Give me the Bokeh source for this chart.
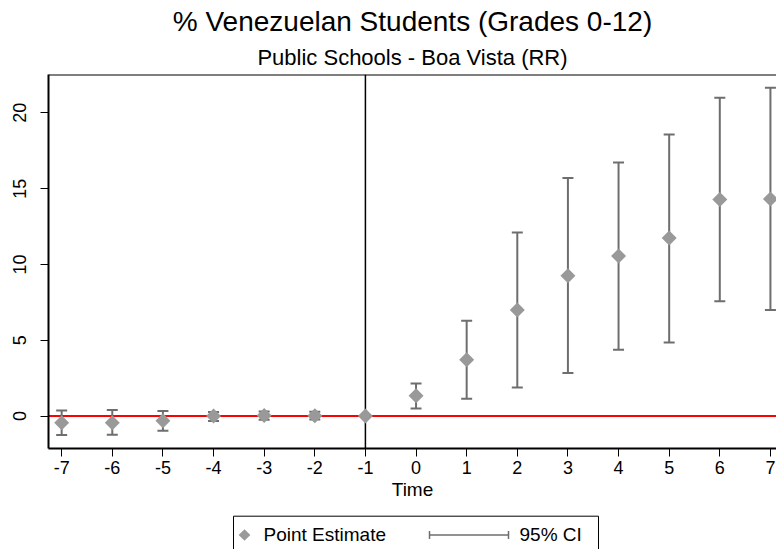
import math
from bokeh.plotting import figure
from bokeh.models import Range1d, Span, Title, FixedTicker
from bokeh.layouts import column
from bokeh.embed import file_html
from bokeh.resources import INLINE
from bokeh.core.properties import value

# ---- data ----
time = [-7, -6, -5, -4, -3, -2, -1, 0, 1, 2, 3, 4, 5, 6, 7]
estimate = [-0.44, -0.44, -0.31, 0.00, 0.03, 0.02, 0.00, 1.34, 3.72, 7.00, 9.26, 10.56, 11.75, 14.28, 14.32]
ci_low = [-1.25, -1.23, -0.97, -0.33, -0.25, -0.22, 0.00, 0.50, 1.14, 1.89, 2.84, 4.38, 4.86, 7.57, 7.00]
ci_high = [0.37, 0.40, 0.33, 0.26, 0.30, 0.28, 0.00, 2.15, 6.29, 12.10, 15.70, 16.72, 18.57, 21.00, 21.66]
y_ticks = [0, 5, 10, 15, 20]
title_text = "% Venezuelan Students (Grades 0-12)"
subtitle_text = "Public Schools - Boa Vista (RR)"
x_label = "Time"
legend_labels = ["Point Estimate", "95% CI"]

FONT = "Liberation Sans"
BAR = "#6e6e6e"
DIA = "#999999"
Y_TOP = 22.53

p = figure(width=776, height=505,
           x_range=Range1d(-7.26, 7.12), y_range=Range1d(-2.14, Y_TOP),
           output_backend="svg", toolbar_location=None,
           min_border_left=48, min_border_right=0, min_border_top=74, min_border_bottom=57,
           outline_line_color=None, background_fill_color="white", border_fill_color="white")

p.add_layout(Title(text=subtitle_text, align="center", text_font=FONT, text_font_size="22px",
                   text_font_style="normal", text_color="black", standoff=10), "above")
p.add_layout(Title(text=title_text, align="center", text_font=FONT, text_font_size="28px",
                   text_font_style="normal", text_color="black", standoff=2), "above")

p.grid.visible = False

# axes
p.xaxis.ticker = FixedTicker(ticks=time)
p.yaxis.ticker = FixedTicker(ticks=y_ticks)
p.xaxis.major_label_overrides = {t: str(t) for t in time}
for ax in (p.xaxis[0], p.yaxis[0]):
    ax.axis_line_color = "black"
    ax.axis_line_width = 2
    ax.major_tick_line_color = "black"
    ax.major_tick_line_width = 1
    ax.major_tick_in = 0
    ax.major_tick_out = 8
    ax.minor_tick_line_color = None
    ax.major_label_text_font = FONT
    ax.major_label_text_font_size = "18px"
    ax.major_label_text_color = "black"
p.yaxis.major_label_orientation = "vertical"
p.yaxis.major_label_standoff = 14
p.xaxis.major_label_standoff = 4
p.xaxis.axis_label = x_label
p.xaxis.axis_label_text_font = FONT
p.xaxis.axis_label_text_font_size = "19px"
p.xaxis.axis_label_text_font_style = "normal"
p.xaxis.axis_label_text_color = "black"
p.xaxis.axis_label_standoff = 2

# top frame border
p.add_layout(Span(location=Y_TOP, dimension="width", line_color="black", line_width=2, level="overlay"))
p.add_layout(Span(location=-1, dimension="height", line_color="black", line_width=1.5, level="underlay"))
p.add_layout(Span(location=0, dimension="width", line_color="red", line_width=2, level="underlay"))

p.segment(x0=time, y0=ci_low, x1=time, y1=ci_high, line_color=BAR, line_width=2)
p.scatter(x=time, y=ci_low, marker="dash", size=11, line_color=BAR, line_width=2)
p.scatter(x=time, y=ci_high, marker="dash", size=11, line_color=BAR, line_width=2)
p.scatter(x=time, y=estimate, marker="square", angle=math.pi / 4, size=10.6,
          fill_color=DIA, line_color=None)

# ---- legend strip (frame aligned with main plot: x in page pixels 48..776) ----
lf = figure(width=776, height=44, x_range=Range1d(48, 776), y_range=Range1d(44, 0),
            output_backend="svg", toolbar_location=None, x_axis_type=None, y_axis_type=None,
            min_border=0, min_border_left=48, min_border_right=0,
            outline_line_color=None)
lf.grid.visible = False
lf.quad(left=[233], right=[598], top=[10.7], bottom=[80], fill_color="white",
        line_color="black", line_width=1)
lf.scatter(x=[244], y=[29.5], marker="square", angle=math.pi / 4, size=8.3,
           fill_color=DIA, line_color=None)
lf.segment(x0=[429], y0=[29.5], x1=[508], y1=[29.5], line_color=BAR, line_width=1.5)
lf.segment(x0=[429, 508], y0=[25.5, 25.5], x1=[429, 508], y1=[33.5, 33.5], line_color=BAR, line_width=1.5)
lf.text(x=[263, 519], y=[29, 29], text=legend_labels, text_font=value(FONT),
        text_font_size="19px", text_baseline="middle", text_color="black")

layout = column(p, lf, spacing=0)
open("out.html", "w").write(file_html(layout, INLINE))
